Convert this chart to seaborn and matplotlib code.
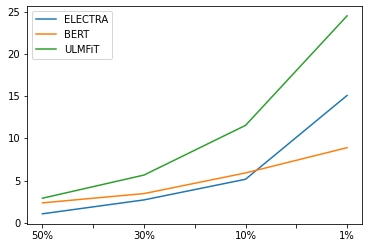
import matplotlib
matplotlib.use('Agg')
import matplotlib.pyplot as plt
import pandas as pd
import seaborn as sns

# data
fractions = ['50%', '30%', '10%', '1%']
electra = [1.05, 2.7, 5.15, 15.1]
bert = [2.35, 3.45, 5.9, 8.9]
ulmfit = [2.9, 5.65, 11.55, 24.55]
tick_labels = ['50%', '', '30%', '', '10%', '', '1%']

series = {'ELECTRA': electra, 'BERT': bert, 'ULMFiT': ulmfit}

fig = plt.figure(figsize=(368 / 72, 248 / 72), dpi=72)
ax = fig.add_axes([0.074, 0.098, 0.9105, 0.878])

for name, vals in series.items():
	df = pd.DataFrame({'pos': range(len(fractions)), 'value': vals})
	sns.lineplot(data=df, x='pos', y='value', label=name, ax=ax)

ax.set_xticks([i * 0.5 for i in range(len(tick_labels))])
ax.set_xticklabels(tick_labels)
ax.set_yticks([0, 5, 10, 15, 20, 25])
ax.set_xlabel('')
ax.set_ylabel('')
ax.legend(loc='upper left')

fig.savefig('out.png', dpi=72)
